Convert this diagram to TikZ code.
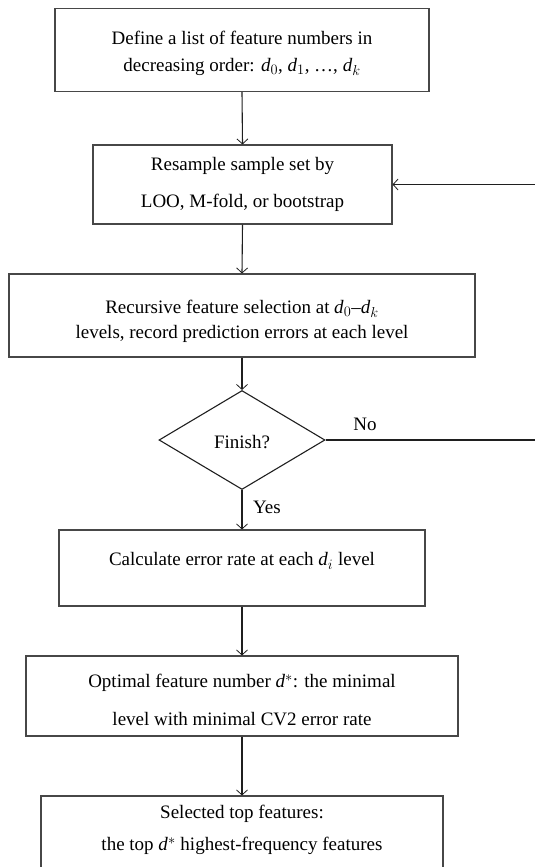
\documentclass[tikz,border=0pt]{standalone}
\usepackage{fontspec}
\setmainfont{Liberation Serif}
\usetikzlibrary{shapes.geometric,arrows.meta}
\newcommand{\dv}[1]{\textit{d}$_{#1}$}
\newcommand{\ds}{\textit{d}$^{*}$}
\begin{document}
\begin{tikzpicture}[x=1pt,y=-1pt,
  boxst/.style={draw=black!72,line width=1.1pt,rectangle,inner sep=0pt},
  txt/.style={align=center,inner sep=0pt,font=\fontsize{19}{#1}\selectfont},
  txt/.default=27,
  conn/.style={draw=black!88,line width=1.1pt,-{Straight Barb[length=5pt,width=11pt,line width=0.8pt]}},
  plain/.style={draw=black!88,line width=1.1pt},
  lbl/.style={inner sep=0pt,font=\fontsize{19}{22}\selectfont}]
\useasboundingbox (0,0) rectangle (535,867);
% boxes
\node[boxst,minimum width=374pt,minimum height=83pt] (b1) at (242,50) {};
\node[boxst,minimum width=299pt,minimum height=79pt] (b2) at (242.5,184.5) {};
\node[boxst,minimum width=466pt,minimum height=83pt] (b3) at (242,315.5) {};
\node[draw=black!88,line width=1.1pt,diamond,inner sep=0pt,minimum width=166pt,minimum height=99pt,aspect=1.68] (d) at (242,440) {};
\node[boxst,minimum width=366pt,minimum height=76pt] (b4) at (242,568) {};
\node[boxst,minimum width=432pt,minimum height=80pt] (b5) at (242,696) {};
\node[boxst,minimum width=402pt,minimum height=100pt] (b6) at (242,846) {};
% texts
\node[txt=27] (t1) at (242,53) {Define a list of feature numbers in\\decreasing order: \dv{0}, \dv{1}, \ldots, \dv{k}};
\node[txt=37] (t2) at (242.5,184) {Resample sample set by\\LOO, M-fold, or bootstrap};
\node[txt=25] (t3) at (242,321) {Recursive feature selection at \dv{0}--\dv{k}\\levels, record prediction errors at each level};
\node[txt=27] (td) at (242,442) {Finish?};
\node[txt=27] (t4) at (242,561) {Calculate error rate at each \dv{i} level};
\node[txt=38] (t5) at (242,700) {Optimal feature number \ds: the minimal\\level with minimal CV2 error rate};
\node[txt=32] (t6) at (242,830) {Selected top features:\\the top \ds\ highest-frequency features};
% connectors
\draw[conn] (b1.south) -- (b2.north);
\draw[conn] (b2.south) -- (b3.north);
\draw[conn] (b3.south) -- (d.north);
\draw[conn] (d.south) -- (b4.north);
\draw[conn] (b4.south) -- (b5.north);
\draw[conn] (b5.south) -- (b6.north);
\coordinate (r1) at (548,440);
\coordinate (r2) at (548,184.5);
\draw[plain] (d.east) -- (r1) -- (r2);
\draw[conn] (r2) -- (b2.east);
% labels
\node[lbl] (no) at (365,424) {No};
\node[lbl] (yes) at (267,507) {Yes};
\end{tikzpicture}
\end{document}
